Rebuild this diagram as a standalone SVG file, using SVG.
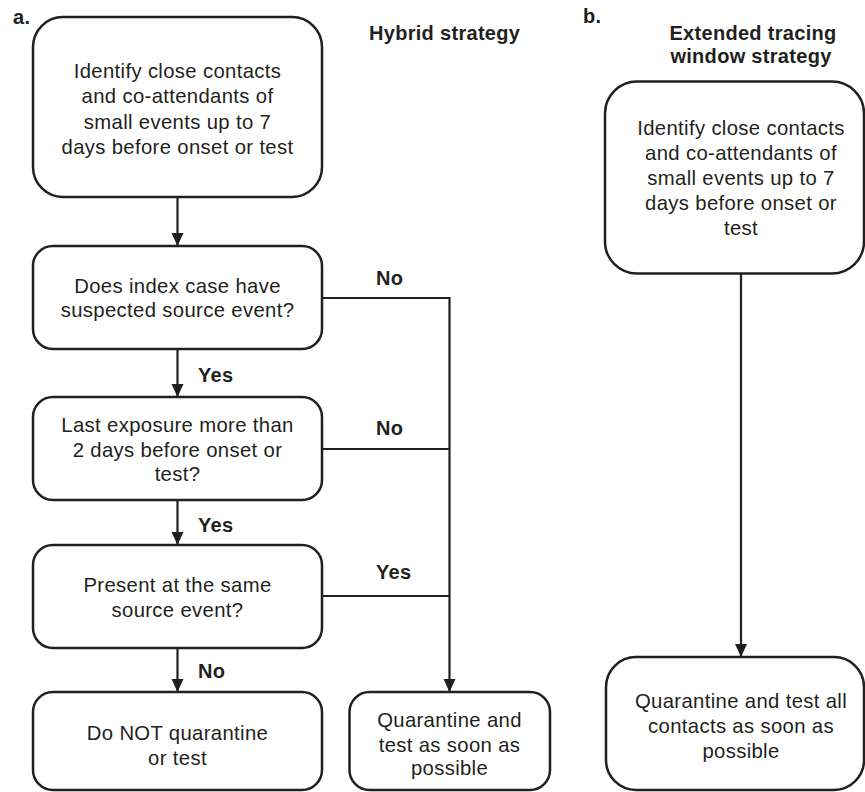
<svg xmlns="http://www.w3.org/2000/svg" width="865" height="792" viewBox="0 0 865 792">
<style>
  .box { fill: #ffffff; stroke: #231f20; stroke-width: 2.5; }
  .t { font-family: "Liberation Sans", Arial, Helvetica, sans-serif; font-size: 20.3px; letter-spacing: 0.35px; fill: #231f20; text-anchor: middle; }
  .b { font-family: "Liberation Sans", Arial, Helvetica, sans-serif; font-size: 20px; font-weight: bold; letter-spacing: 0.3px; fill: #231f20; }
  .c { fill: none; stroke: #231f20; stroke-width: 2.2; }
</style>
<defs>
  <marker id="ah" markerUnits="userSpaceOnUse" markerWidth="14" markerHeight="14" viewBox="0 0 14 14" refX="13" refY="7" orient="auto">
    <path d="M0,1 L13,7 L0,13 Z" fill="#231f20"/>
  </marker>
</defs>
<rect width="865" height="792" fill="#ffffff"/>

<g id="labels">
  <text class="b" x="13" y="24">a.</text>
  <text class="b" x="583" y="23">b.</text>
  <text class="b" x="369" y="40">Hybrid strategy</text>
  <text class="b" x="753" y="40" text-anchor="middle">Extended tracing</text>
  <text class="b" x="751" y="63.3" text-anchor="middle">window strategy</text>
</g>

<g id="connectors">
  <line class="c" x1="177.5" y1="197" x2="177.5" y2="246" marker-end="url(#ah)"/>
  <line class="c" x1="177.5" y1="349" x2="177.5" y2="397" marker-end="url(#ah)"/>
  <line class="c" x1="177.5" y1="500" x2="177.5" y2="545" marker-end="url(#ah)"/>
  <line class="c" x1="177.5" y1="648" x2="177.5" y2="692" marker-end="url(#ah)"/>
  <polyline class="c" points="322,298 449.5,298 449.5,692" marker-end="url(#ah)"/>
  <line class="c" x1="322" y1="449" x2="449.5" y2="449"/>
  <line class="c" x1="322" y1="596" x2="449.5" y2="596"/>
  <line class="c" x1="741" y1="273" x2="741" y2="657" marker-end="url(#ah)"/>
  <text class="b" x="376" y="285">No</text>
  <text class="b" x="376" y="435">No</text>
  <text class="b" x="376" y="579">Yes</text>
  <text class="b" x="198" y="381.7">Yes</text>
  <text class="b" x="198" y="531.7">Yes</text>
  <text class="b" x="198" y="678">No</text>
</g>

<g id="node-identify-a">
  <rect class="box" x="33" y="17" width="289" height="180" rx="30" ry="30"/>
  <text class="t" x="177.5" y="78">Identify close contacts</text>
  <text class="t" x="177.5" y="103.3">and co-attendants of</text>
  <text class="t" x="177.5" y="128.7">small events up to 7</text>
  <text class="t" x="177.5" y="154">days before onset or test</text>
</g>

<g id="node-source-event">
  <rect class="box" x="33" y="246" width="289" height="103" rx="20" ry="20"/>
  <text class="t" x="177.5" y="292.7">Does index case have</text>
  <text class="t" x="177.5" y="317.3">suspected source event?</text>
</g>

<g id="node-last-exposure">
  <rect class="box" x="33" y="397" width="289" height="103" rx="20" ry="20"/>
  <text class="t" x="177.5" y="431.7">Last exposure more than</text>
  <text class="t" x="177.5" y="456.7">2 days before onset or</text>
  <text class="t" x="177.5" y="481">test?</text>
</g>

<g id="node-present">
  <rect class="box" x="33" y="545" width="289" height="103" rx="20" ry="20"/>
  <text class="t" x="177.5" y="591.7">Present at the same</text>
  <text class="t" x="177.5" y="616.7">source event?</text>
</g>

<g id="node-do-not">
  <rect class="box" x="33" y="692" width="289" height="98" rx="20" ry="20"/>
  <text class="t" x="177.5" y="740">Do NOT quarantine</text>
  <text class="t" x="177.5" y="765">or test</text>
</g>

<g id="node-quarantine-a">
  <rect class="box" x="349.5" y="692" width="200.5" height="98" rx="20" ry="20"/>
  <text class="t" x="449.5" y="726.7">Quarantine and</text>
  <text class="t" x="449.5" y="751.7">test as soon as</text>
  <text class="t" x="449.5" y="775">possible</text>
</g>

<g id="node-identify-b">
  <rect class="box" x="605" y="81.5" width="259" height="192" rx="32" ry="32"/>
  <text class="t" x="741" y="135">Identify close contacts</text>
  <text class="t" x="741" y="160">and co-attendants of</text>
  <text class="t" x="741" y="185">small events up to 7</text>
  <text class="t" x="741" y="210">days before onset or</text>
  <text class="t" x="741" y="235">test</text>
</g>

<g id="node-quarantine-b">
  <rect class="box" x="606" y="657" width="258" height="133" rx="30" ry="30"/>
  <text class="t" x="741" y="708.3">Quarantine and test all</text>
  <text class="t" x="741" y="733.3">contacts as soon as</text>
  <text class="t" x="741" y="757.5">possible</text>
</g>
</svg>
